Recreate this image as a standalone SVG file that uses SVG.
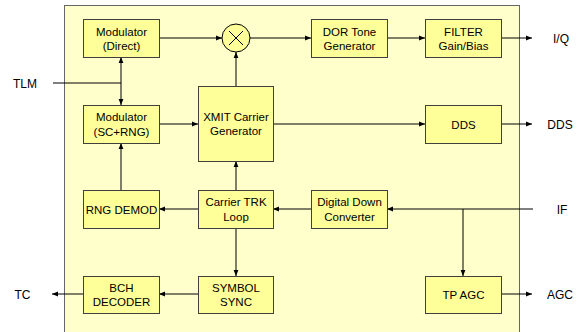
<svg xmlns="http://www.w3.org/2000/svg" width="581" height="332" viewBox="0 0 581 332">
<defs>
<marker id="ah" viewBox="0 0 10 10" refX="10" refY="5" markerWidth="6" markerHeight="6" orient="auto-start-reverse" markerUnits="userSpaceOnUse">
<path d="M0,1 L10,5 L0,9 z" fill="#000"/>
</marker>
<style>
.blk{fill:#FFFF99;stroke:#404040;stroke-width:1}
.t{font-family:"Liberation Sans",Arial,sans-serif;font-size:11.5px;fill:#000;text-anchor:middle}
.lbl{font-family:"Liberation Sans",Arial,sans-serif;font-size:12px;fill:#000;text-anchor:middle}
.c{fill:none;stroke:#000;stroke-width:1}
.a{marker-end:url(#ah)}
</style>
</defs>
<rect width="581" height="332" fill="#fff"/>
<rect id="chassis" x="64.5" y="5.5" width="455" height="340" fill="#FFFFCC" stroke="#666" stroke-width="1"/>

<g id="connectors">
<path class="c a" d="M159,38 H222"/>
<path class="c a" d="M250,38 H311"/>
<path class="c a" d="M387,38 H425"/>
<path class="c a" d="M501,38 H532"/>
<path class="c a" d="M236,86 V52"/>
<path class="c" d="M53,83 H121"/>
<path class="c a" d="M121,83 V57"/>
<path class="c a" d="M121,83 V105"/>
<path class="c a" d="M159,124 H198"/>
<path class="c a" d="M273,124 H425"/>
<path class="c a" d="M501,124 H532"/>
<path class="c a" d="M121,190 V143"/>
<path class="c a" d="M236,190 V161"/>
<path class="c a" d="M198,209 H159"/>
<path class="c a" d="M311,209 H273"/>
<path class="c a" d="M533,209 H387"/>
<path class="c a" d="M463,209 V276"/>
<path class="c a" d="M236,228 V276"/>
<path class="c a" d="M198,294 H159"/>
<path class="c a" d="M83,294 H52"/>
<path class="c a" d="M501,294 H532"/>
</g>

<g id="mod_direct"><rect class="blk" x="83.5" y="19.5" width="76" height="38"/><text class="t" x="121.5" y="36">Modulator</text><text class="t" x="121.5" y="50">(Direct)</text></g>
<g id="mixer"><circle cx="236" cy="38" r="14" fill="#FFFF99" stroke="#000"/><path d="M229,31 L243,45 M243,31 L229,45" stroke="#000" stroke-width="1" fill="none"/></g>
<g id="dor"><rect class="blk" x="311.5" y="19.5" width="76" height="38"/><text class="t" x="349.5" y="36">DOR Tone</text><text class="t" x="349.5" y="50">Generator</text></g>
<g id="filter"><rect class="blk" x="425.5" y="19.5" width="76" height="38"/><text class="t" x="463.5" y="36">FILTER</text><text class="t" x="463.5" y="50">Gain/Bias</text></g>
<g id="mod_scrng"><rect class="blk" x="83.5" y="105.5" width="76" height="38"/><text class="t" x="121.5" y="121">Modulator</text><text class="t" x="121.5" y="136">(SC+RNG)</text></g>
<g id="xmit"><rect class="blk" x="198.5" y="86.5" width="75" height="75"/><text class="t" x="236" y="121">XMIT Carrier</text><text class="t" x="236" y="135">Generator</text></g>
<g id="dds"><rect class="blk" x="425.5" y="105.5" width="76" height="38"/><text class="t" x="463.5" y="128.5">DDS</text></g>
<g id="rng_demod"><rect class="blk" x="83.5" y="190.5" width="76" height="38"/><text class="t" x="121.5" y="213.5">RNG DEMOD</text></g>
<g id="carrier_trk"><rect class="blk" x="198.5" y="190.5" width="75" height="38"/><text class="t" x="236" y="206">Carrier TRK</text><text class="t" x="236" y="221">Loop</text></g>
<g id="ddc"><rect class="blk" x="311.5" y="190.5" width="76" height="38"/><text class="t" x="349.5" y="206">Digital Down</text><text class="t" x="349.5" y="221">Converter</text></g>
<g id="bch"><rect class="blk" x="83.5" y="276.5" width="76" height="37"/><text class="t" x="121.5" y="292">BCH</text><text class="t" x="121.5" y="306">DECODER</text></g>
<g id="symbol_sync"><rect class="blk" x="198.5" y="276.5" width="75" height="37"/><text class="t" x="236" y="292">SYMBOL</text><text class="t" x="236" y="306">SYNC</text></g>
<g id="tp_agc"><rect class="blk" x="425.5" y="276.5" width="76" height="37"/><text class="t" x="463.5" y="299">TP AGC</text></g>

<g id="labels">
<text class="lbl" x="25" y="87.5">TLM</text>
<text class="lbl" x="561" y="42.5">I/Q</text>
<text class="lbl" x="560" y="128.5">DDS</text>
<text class="lbl" x="562" y="213.5">IF</text>
<text class="lbl" x="560" y="298.5">AGC</text>
<text class="lbl" x="22.5" y="298.5">TC</text>
</g>
</svg>
